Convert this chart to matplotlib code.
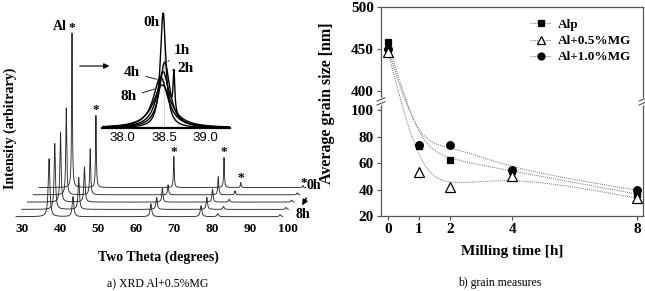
import numpy as np
import matplotlib.pyplot as plt
from matplotlib.lines import Line2D

plt.rcParams['font.family'] = ['Liberation Serif', 'DejaVu Serif']
plt.rcParams['font.weight'] = 'bold'
plt.rcParams['axes.labelweight'] = 'bold'

# --- a) XRD waterfall, front trace (8h) to back trace (0h) ---
scan_labels = ['8h', '4h', '2h', '1h', '0h']
peak_pos = [37.1, 43.4, 63.9, 77.1, 81.5, 97.9]      # front trace positions
h_8h = [58, 20, 13, 11, 3, 2]
h_4h = [66, 32, 12, 12, 3, 2]
h_2h = [70, 35, 14, 13, 3, 2]
h_1h = [87, 46, 10, 18, 4, 2]
h_0h = [155, 72, 31, 30, 5, 2]
peak_hwhm = [0.25, 0.2, 0.18, 0.15, 0.12]
scan_heights = [h_8h, h_4h, h_2h, h_1h, h_0h]
two_theta_ticks = [30, 40, 50, 60, 70, 80, 90, 100]

# inset: Al (111) peak
inset_labels = ['0h', '1h', '2h', '4h', '8h']
inset_center = [38.49, 38.51, 38.49, 38.46, 38.48]
inset_height = [115, 66, 56, 51, 43]
inset_hwhm = [0.04, 0.075, 0.09, 0.105, 0.13]
spike_2h = (38.62, 40, 0.012)
inset_ticks = [38.0, 38.5, 39.0]

# --- b) grain size ---
milling_time = [0, 1, 2, 4, 8]
size_alp = [458, 73, 62.5, 54, 36.5]
size_05 = [447, 53.5, 42, 50.5, 33.5]
size_10 = [450, 73.5, 73.5, 55, 39.5]


def lorentz(x, c, h, w):
    return h * w**2 / ((x - c)**2 + w**2)


def fwd(v):
    v = np.asarray(v, dtype=float)
    return np.where(v <= 105, v, np.where(v <= 390, 105 + (v - 105) * 3 / 285,
                                          108 + (v - 390) * 0.634))


def inv(p):
    p = np.asarray(p, dtype=float)
    return np.where(p <= 105, p, np.where(p <= 108, 105 + (p - 105) * 285 / 3,
                                          390 + (p - 108) / 0.634))


def bspline(xs, ys, n=80):
    # uniform cubic B-spline with clamped ends (Origin style connection)
    P = np.column_stack([xs, ys])
    Q = np.vstack([P[0], P[0], P, P[-1], P[-1]])
    M = np.array([[-1, 3, -3, 1], [3, -6, 3, 0], [-3, 0, 3, 0], [1, 4, 1, 0]]) / 6
    u = np.linspace(0, 1, n)
    U = np.column_stack([u**3, u**2, u, np.ones_like(u)])
    return np.vstack([U @ M @ Q[i:i + 4] for i in range(len(Q) - 3)])


fig = plt.figure(figsize=(6.45, 2.91), dpi=100)

# left panel, 1 y unit = 1 px
ax1 = fig.add_axes([0, 71 / 291, 320 / 645, 220 / 291])
ax1.set_xlim(24.2, 108.4)
ax1.set_ylim(-3.3, 216.7)
for s in ax1.spines.values():
    s.set_visible(False)
ax1.set_yticks([])
ax1.set_xticks(two_theta_ticks)
ax1.tick_params(axis='x', length=0, pad=2, labelsize=9.5)

shift, step = 1.51, 7.3
for i, hs in enumerate(scan_heights):
    x = np.linspace(28.4, 98.6, 5000) + i * shift
    y = np.full_like(x, i * step)
    for p, h in zip(peak_pos, hs):
        y += lorentz(x, p + i * shift, h, peak_hwhm[i])
    ax1.plot(x, y, color='#2a2a2a', lw=0.65)

top_i = len(scan_heights) - 1
for p, h in zip(peak_pos[:5], h_0h[:5]):
    ax1.text(p + top_i * shift, top_i * step + h - 1, '*', ha='center', va='bottom',
             fontsize=9.5)
ax1.text(39.9, 189.7, 'Al', ha='center', va='center', fontsize=10)
ax1.text(104.0, 34, '*', ha='center', va='center', fontsize=9.5)
ax1.text(106.8, 31, '0h', ha='center', va='center', fontsize=10)
ax1.text(103.8, 2, '8h', ha='center', va='center', fontsize=10)
ax1.annotate('', xy=(103.3, 9), xytext=(105.2, 21),
             arrowprops=dict(arrowstyle='-|>', color='black', lw=1.0, mutation_scale=8))
ax1.annotate('', xy=(53.7, 150.7), xytext=(44.45, 150.7),
             arrowprops=dict(arrowstyle='-|>', color='black', lw=0.8, mutation_scale=8))

# inset
axi = fig.add_axes([102 / 645, 163 / 291, 128 / 645, 128 / 291], facecolor='none')
axi.set_xlim(37.76, 39.29)
axi.set_ylim(0, 128)
for k in ['top', 'left', 'right']:
    axi.spines[k].set_visible(False)
axi.spines['bottom'].set_linewidth(1.6)
axi.set_yticks([])
axi.set_xticks(inset_ticks)
axi.set_xticklabels(['%.1f' % t for t in inset_ticks], family='Liberation Sans',
                    fontweight='normal', fontsize=9.5)
axi.tick_params(axis='x', length=0, pad=3)
axi.plot([38.5, 38.5], [0, 118], color='gray', lw=0.6, ls=':')
xi = np.linspace(37.76, 39.29, 2000)
for lab, c, h, w in zip(inset_labels, inset_center, inset_height, inset_hwhm):
    yi = lorentz(xi, c, h, w)
    if lab == '2h':
        yi = yi + lorentz(xi, *spike_2h)
    axi.plot(xi, yi, color='black', lw=1.0)

lbl = dict(fontsize=11, ha='center', va='center')
axi.text(38.35, 105, '0h', **lbl)
axi.annotate('1h', xy=(38.52, 65), xytext=(38.72, 77), arrowprops=dict(arrowstyle='-', lw=0.6), **lbl)
axi.annotate('2h', xy=(38.6, 58), xytext=(38.76, 60), arrowprops=dict(arrowstyle='-', lw=0.6), **lbl)
axi.annotate('4h', xy=(38.45, 48), xytext=(38.12, 55), arrowprops=dict(arrowstyle='-', lw=0.6), **lbl)
axi.annotate('8h', xy=(38.43, 40), xytext=(38.08, 31), arrowprops=dict(arrowstyle='-', lw=0.6), **lbl)

fig.text(10 / 645, 1 - 128 / 291, 'Intensity (arbitrary)', rotation=90, ha='center',
         va='center', fontsize=10)
fig.text(158 / 645, 1 - 257 / 291, 'Two Theta (degrees)', ha='center', va='center', fontsize=10)
fig.text(158 / 645, 2 / 291, 'a) XRD Al+0.5%MG', ha='center', va='bottom',
         fontsize=8.5, fontweight='normal')

# right panel
ax2 = fig.add_axes([381 / 645, 75 / 291, 262 / 645, 209 / 291])
ax2.set_yscale('function', functions=(fwd, inv))
ax2.set_xlim(-0.22, 8.19)
ax2.set_ylim(20, 500)
ax2.set_xticks(milling_time)
ax2.set_yticks([20, 40, 60, 80, 100, 400, 450, 500])
ax2.yaxis.set_minor_locator(plt.NullLocator())
for s in ax2.spines.values():
    s.set_color('#555555')
    s.set_linewidth(0.9)
ax2.tick_params(direction='out', length=3, width=0.8, labelsize=11, pad=2, color='#555555')

series = [(size_alp, 's', 'black', 5, 'Alp'),
          (size_10, 'o', 'black', 5.5, 'Al+1.0%MG'),
          (size_05, '^', 'white', 6.5, 'Al+0.5%MG')]
handles = {}
for ys, m, fc, ms, lab in series:
    curve = bspline(milling_time, fwd(ys))
    ax2.plot(curve[:, 0], inv(curve[:, 1]), color='#666666', lw=0.7, ls=(0, (1, 1.2)))
for ys, m, fc, ms, lab in series:
    ax2.plot(milling_time, ys, ls='none', marker=m, mfc=fc, mec='black', ms=ms,
             mew=0.9, zorder=4)
    handles[lab] = Line2D([], [], color='#666666', lw=0.7, ls=(0, (1, 1.2)), marker=m,
                          mfc=fc, mec='black', ms=ms - 0.5, mew=0.9)

order = ['Alp', 'Al+0.5%MG', 'Al+1.0%MG']
ax2.legend([handles[k] for k in order], order, loc='upper right',
           bbox_to_anchor=(0.98, 0.975), frameon=False, fontsize=9.5, borderpad=0,
           handlelength=1.6, handletextpad=0.5, labelspacing=0.3)

# axis break marks
lo, hi = (105 - 20) / 157.7, (108 - 20) / 157.7
for xa in (0, 1):
    ax2.plot([xa, xa], [lo, hi], color='white', lw=2.5, transform=ax2.transAxes,
             clip_on=False, zorder=5)
    for yb in (lo, hi):
        ax2.plot([xa - 0.015, xa + 0.015], [yb - 0.008, yb + 0.008], color='#555555',
                 lw=0.8, transform=ax2.transAxes, clip_on=False, zorder=6)

ax2.set_ylabel('Average grain size [nm]', fontsize=11.5, fontweight='bold')
ax2.yaxis.set_label_coords(-0.175, 0.54)
ax2.set_xlabel('Milling time [h]', fontsize=11, fontweight='bold', va='center')
ax2.xaxis.set_label_coords(0.5, -0.172)
fig.text(500 / 645, 2 / 291, 'b) grain measures', ha='center', va='bottom',
         fontsize=8.5, fontweight='normal')

fig.savefig('out.png', dpi=100)
